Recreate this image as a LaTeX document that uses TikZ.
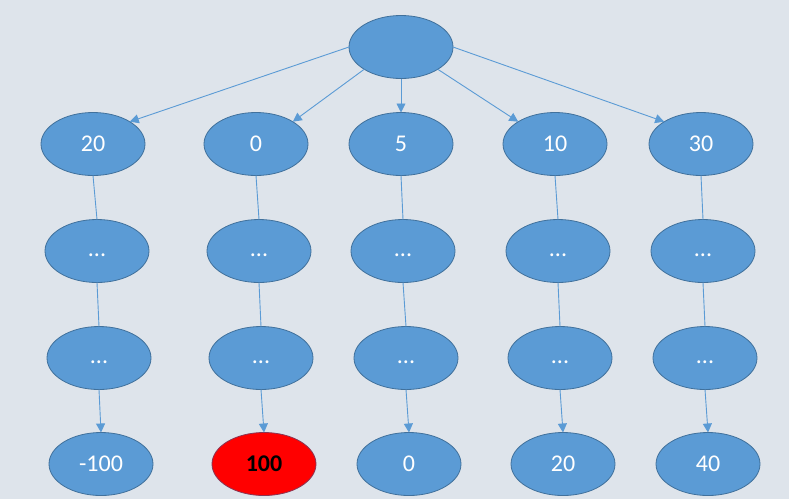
\documentclass[tikz,border=0pt]{standalone}
\usepackage{fontspec}
\setmainfont{Carlito}
\usetikzlibrary{shapes.geometric,arrows.meta}
\definecolor{bg}{HTML}{DEE4EB}
\definecolor{nodefill}{HTML}{5B9BD5}
\definecolor{nodeline}{HTML}{41719C}
\definecolor{edge}{HTML}{5B9BD5}
\definecolor{hot}{HTML}{FF0000}
\definecolor{hotline}{HTML}{8A3553}
\newcommand{\lowdots}{\raisebox{0pt}[11pt][0pt]{...}}
\tikzset{
  treenode/.style={ellipse, draw=nodeline, line width=0.8pt, fill=nodefill, text=white,
    minimum width=104pt, minimum height=63pt, inner sep=0pt, outer sep=0pt,
    font=\fontsize{24}{26}\selectfont},
  hotnode/.style={treenode, fill=hot, draw=hotline, text=black, font=\fontsize{24}{26}\selectfont\bfseries},
  link/.style={draw=edge, line width=0.9pt},
  arrowlink/.style={link, -{Triangle[length=9pt,width=9pt]}},
}
\begin{document}
\begin{tikzpicture}[x=1pt,y=-1pt]
\fill[bg] (0,0) rectangle (789,499);
\useasboundingbox (0,0) rectangle (789,499);
% root
\node[treenode] (r) at (401,47) {};
% row 1
\node[treenode] (a1) at (93,144) {20};
\node[treenode] (b1) at (256,144) {0};
\node[treenode] (c1) at (401,144) {5};
\node[treenode] (d1) at (555,144) {10};
\node[treenode] (e1) at (701,144) {30};
% row 2
\node[treenode] (a2) at (97,251) {\lowdots};
\node[treenode] (b2) at (259,251) {\lowdots};
\node[treenode] (c2) at (403,251) {\lowdots};
\node[treenode] (d2) at (558,251) {\lowdots};
\node[treenode] (e2) at (703,251) {\lowdots};
% row 3
\node[treenode] (a3) at (99,358) {\lowdots};
\node[treenode] (b3) at (261,358) {\lowdots};
\node[treenode] (c3) at (406,358) {\lowdots};
\node[treenode] (d3) at (560,358) {\lowdots};
\node[treenode] (e3) at (705,358) {\lowdots};
% row 4
\node[treenode] (a4) at (101,464) {-100};
\node[hotnode] (b4) at (264,464) {100};
\node[treenode] (c4) at (409,464) {0};
\node[treenode] (d4) at (563,464) {20};
\node[treenode] (e4) at (708,464) {40};
% root edges
\draw[arrowlink] (r.west) -- (a1.north east);
\draw[arrowlink] (r.south west) -- (b1.north east);
\draw[arrowlink] (r.south) -- (c1.north);
\draw[arrowlink] (r.south east) -- (d1.north west);
\draw[arrowlink] (r.east) -- (e1.north west);
% chains
\foreach \c in {a,b,c,d,e}{
  \draw[link] (\c1.south) -- (\c2.north);
  \draw[link] (\c2.south) -- (\c3.north);
  \draw[arrowlink] (\c3.south) -- (\c4.north);
}
\end{tikzpicture}
\end{document}
